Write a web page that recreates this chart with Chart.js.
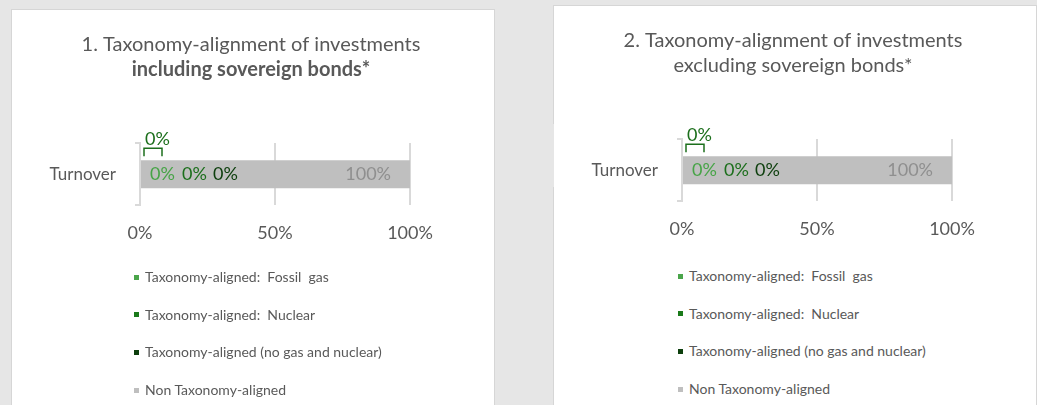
<!DOCTYPE html>
<html>
<head>
<meta charset="utf-8">
<script src="https://cdn.jsdelivr.net/npm/chart.js@4"></script>
<style>
  body { margin: 0; width: 1037px; height: 405px; background: #e6e6e6; position: relative; overflow: hidden; font-family: Lato, sans-serif; }
  .panel { position: absolute; background: #fff; width: 482px; height: 400px; border: 1px solid #d6d6d6; border-bottom: none; }
  .panel canvas { position: absolute; left: 0; top: 0; }
  .gap { position: absolute; width: 2px; height: 63px; top: 124px; background: #e6e6e6; }
  .legend { position: absolute; left: 122px; top: 257px; margin: 0; padding: 0; list-style: none; }
  .legend li { height: 20px; line-height: 20px; margin-bottom: 17.7px; font-size: 14px; color: #595959; white-space: pre; display: flex; align-items: center; }
  .legend span { display: inline-block; width: 5px; height: 5px; margin-right: 6px; }
</style>
</head>
<body>
<div class="panel" id="p1" style="left:11px; top:9px;">
  <canvas id="chart1" width="478" height="260"></canvas>
  <ul class="legend" id="legend1"></ul>
</div>
<div class="panel" id="p2" style="left:553px; top:5px;">
  <canvas id="chart2" width="478" height="260"></canvas>
  <ul class="legend" id="legend2" style="top:260px; left:124px;"></ul>
</div>
<div class="gap" style="left:495px;"></div>
<div class="gap" style="left:552px;"></div>

<script>
const categories = ['Turnover'];
const seriesNames = [
  'Taxonomy-aligned:  Fossil  gas',
  'Taxonomy-aligned:  Nuclear',
  'Taxonomy-aligned (no gas and nuclear)',
  'Non Taxonomy-aligned'
];
const xTickValues = [0, 50, 100];

// 1. including sovereign bonds
const inclFossilGas = [0];
const inclNuclear = [0];
const inclAligned = [0];
const inclNonAligned = [100];

// 2. excluding sovereign bonds
const exclFossilGas = [0];
const exclNuclear = [0];
const exclAligned = [0];
const exclNonAligned = [100];

const colors = ['#4aa54a', '#1a7a1a', '#0d3f0d', '#bfbfbf'];
const labelColors = ['#47a447', '#1c6f1c', '#0f400f', '#8f8f8f'];
const grey = '#595959';
const lineGrey = '#d9d9d9';

// labels are drawn relative to the bar (px from the start or the end)
const barLabels = {
  id: 'barLabels',
  afterDatasetsDraw(chart) {
    const ctx = chart.ctx;
    chart.data.datasets.forEach((ds, i) => {
      const meta = chart.getDatasetMeta(i);
      meta.data.forEach((bar, j) => {
        const txt = ds.data[j] + '%';
        ctx.save();
        ctx.font = '18px Lato';
        ctx.fillStyle = labelColors[i];
        ctx.textBaseline = 'middle';
        if (ds.fromEnd) {
          ctx.textAlign = 'right';
          ctx.fillText(txt, bar.x - ds.labelOffset, bar.y);
        } else {
          ctx.textAlign = 'left';
          ctx.fillText(txt, bar.base + ds.labelOffset, bar.y);
        }
        if (ds.callout) {
          const top = bar.y - bar.height / 2;
          ctx.fillStyle = labelColors[1];
          ctx.strokeStyle = labelColors[1];
          ctx.lineWidth = 1.5;
          ctx.fillText(txt, bar.base + 5, top - 21);
          ctx.beginPath();
          ctx.moveTo(bar.base + 4, top - 4);
          ctx.lineTo(bar.base + 4, top - 12);
          ctx.lineTo(bar.base + 22, top - 12);
          ctx.lineTo(bar.base + 22, top - 4);
          ctx.stroke();
        }
        ctx.restore();
      });
    });
  }
};

function makeChart(canvasId, legendId, title, subtitle, bold, values) {
  const datasets = values.map((v, i) => ({
    label: seriesNames[i],
    data: v,
    backgroundColor: colors[i],
    borderWidth: 0,
    inflateAmount: 0,
    barThickness: 28,
    labelOffset: [10, 42, 73, 19][i],
    fromEnd: i === 3,
    callout: i === 1
  }));

  const chart = new Chart(document.getElementById(canvasId), {
    type: 'bar',
    data: { labels: categories, datasets: datasets },
    options: {
      indexAxis: 'y',
      responsive: false,
      animation: false,
      layout: { padding: { top: 10, bottom: 9, left: 0, right: 0 } },
      plugins: {
        legend: { display: false },
        tooltip: { enabled: false },
        title: {
          display: true,
          text: title,
          color: grey,
          font: { family: 'Lato', size: 20, weight: 'normal' },
          padding: { top: 13, bottom: 0 }
        },
        subtitle: {
          display: true,
          text: subtitle,
          color: grey,
          font: { family: 'Lato', size: 20, weight: bold ? 'bold' : 'normal' },
          padding: { top: 1, bottom: 61 }
        }
      },
      scales: {
        x: {
          stacked: true,
          min: 0,
          max: 100,
          afterBuildTicks: s => { s.ticks = xTickValues.map(v => ({ value: v })); },
          grid: { color: lineGrey, lineWidth: 2, drawTicks: false },
          border: { display: false },
          ticks: {
            padding: 17,
            color: grey,
            font: { family: 'Lato', size: 18 },
            callback: v => v + '%'
          }
        },
        y: {
          stacked: true,
          afterFit: s => { s.width = 128; },
          grid: { color: lineGrey, lineWidth: 2, drawOnChartArea: false, offset: true, tickLength: 5 },
          border: { display: true, color: lineGrey, width: 2 },
          ticks: { padding: 19, color: grey, font: { family: 'Lato', size: 17 } }
        },
        yPad: {
          type: 'linear',
          axis: 'y',
          position: 'right',
          ticks: { display: false },
          grid: { display: false },
          border: { display: false },
          afterFit: s => { s.width = 80; }
        }
      }
    },
    plugins: [barLabels]
  });

  // html legend from the chart's own legend items
  const ul = document.getElementById(legendId);
  chart.options.plugins.legend.labels.generateLabels(chart).forEach(item => {
    const li = document.createElement('li');
    const box = document.createElement('span');
    box.style.background = item.fillStyle;
    li.appendChild(box);
    li.appendChild(document.createTextNode(item.text));
    ul.appendChild(li);
  });
}

makeChart('chart1', 'legend1',
  '1. Taxonomy-alignment of investments', 'including sovereign bonds*', true,
  [inclFossilGas, inclNuclear, inclAligned, inclNonAligned]);

makeChart('chart2', 'legend2',
  '2. Taxonomy-alignment of investments', 'excluding sovereign bonds*', false,
  [exclFossilGas, exclNuclear, exclAligned, exclNonAligned]);
</script>
</body>
</html>
